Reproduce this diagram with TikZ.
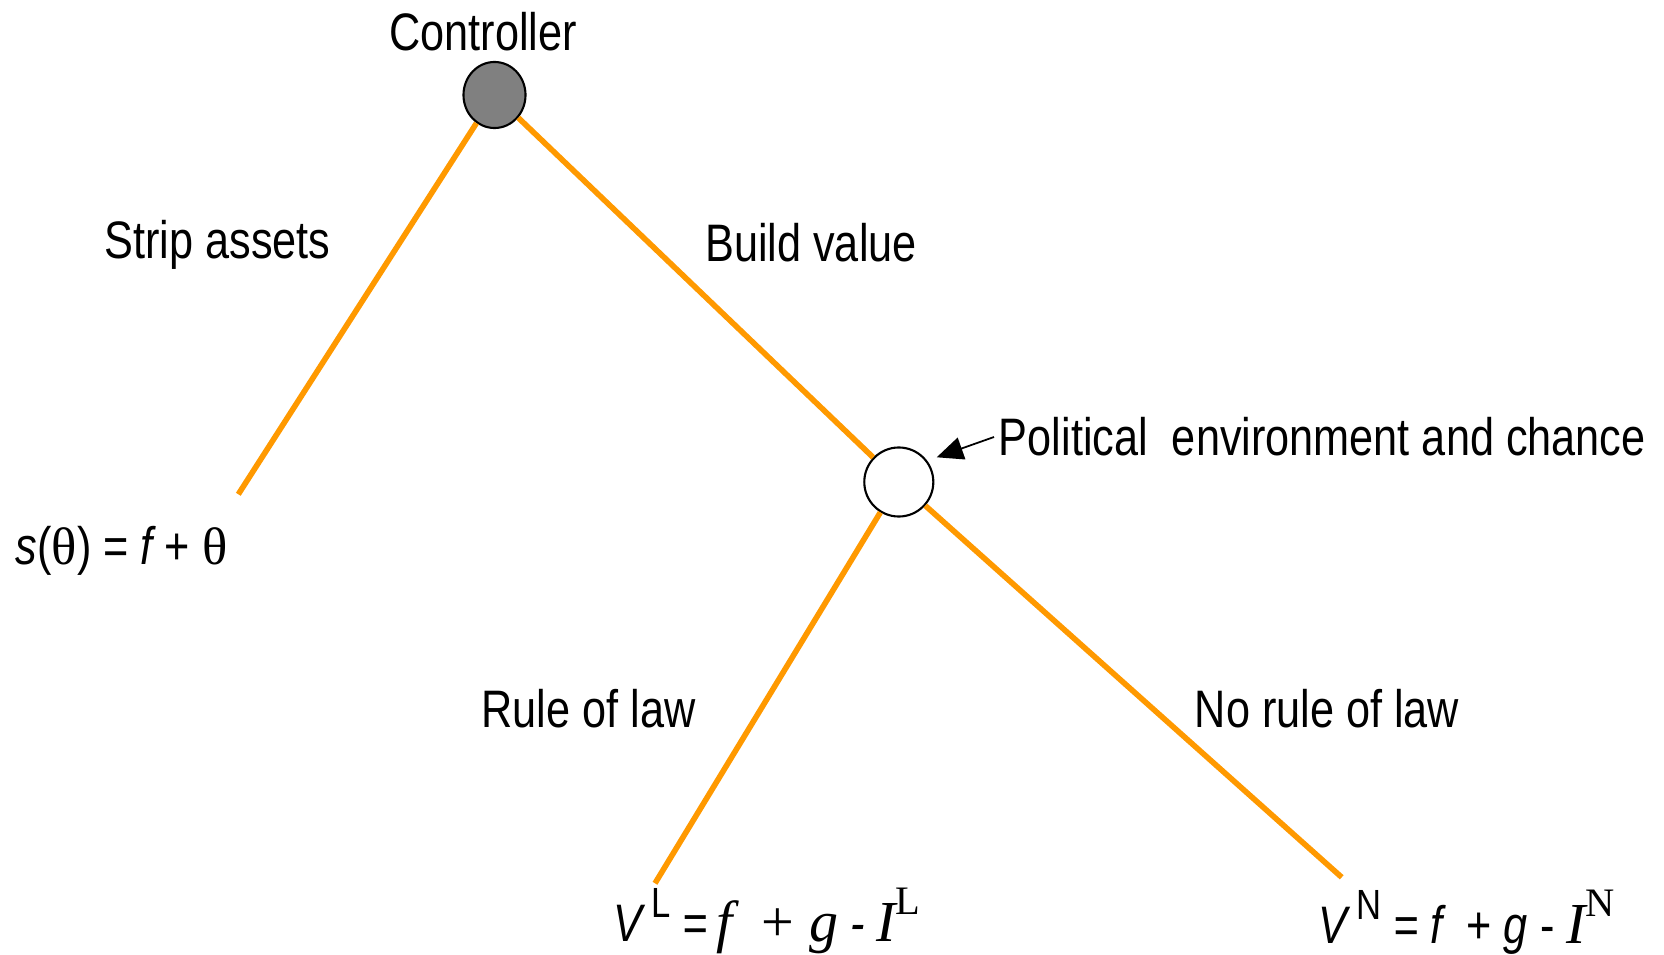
\documentclass[tikz,border=0pt]{standalone}
\usepackage{fontspec}
\setmainfont[FakeStretch=0.82]{Liberation Sans}
\newfontfamily\tms{Liberation Serif}
\definecolor{branch}{RGB}{255,153,0}
\definecolor{movefill}{RGB}{128,128,128}
\tikzset{
  branch/.style={draw=branch,line width=1.6pt},
  decision/.style={ellipse,draw,line width=0.6pt,fill=movefill,minimum width=0.62cm,minimum height=0.66cm,inner sep=0pt},
  chance/.style={circle,draw,line width=0.6pt,fill=white,minimum size=0.69cm,inner sep=0pt},
  lbl/.style={inner sep=0pt,font=\fontsize{15}{18}\selectfont},
  pointer/.style={-{Triangle[length=7.5pt,width=6.5pt]},line width=0.5pt}
}
\newcommand{\supsf}[1]{\raisebox{0.45em}{\fontsize{12}{12}\selectfont\upshape #1}}
\newcommand{\suptm}[1]{\raisebox{0.45em}{\tms\fontsize{11.5}{12}\selectfont\upshape #1}}
\usetikzlibrary{shapes.geometric,arrows.meta}
\begin{document}
\begin{tikzpicture}[x=0.01cm,y=-0.01cm]
\useasboundingbox (0,0) rectangle (1664,955);
% ---------- nodes of the tree ----------
\node[decision] (ctrl) at (494.5,95) {};
\node[chance] (env) at (898.8,482) {};
% free ends of the branches
\coordinate (stripend) at (238.3,494.3);
\coordinate (lawend) at (655,883.3);
\coordinate (nolawend) at (1341.7,877.3);
\coordinate (envtip) at (936.7,457.3);
% ---------- branches ----------
\draw[branch] (ctrl) -- (stripend);
\draw[branch] (ctrl) -- (env);
\draw[branch] (env) -- (lawend);
\draw[branch] (env) -- (nolawend);
% ---------- labels ----------
\node[lbl] (ctrllbl) at (483,32) {Controller};
\node[lbl] (strip) at (217.5,245) {Strip assets};
\node[lbl] (build) at (811,243) {Build value};
\node[lbl] (rule) at (588.5,709) {Rule of law};
\node[lbl] (norule) at (1327,709) {No rule of law};
\node[lbl,anchor=west,inner xsep=1.2pt] (pol) at (994,437) {Political\ \ environment and chance};
\draw[pointer] (pol.west) -- (envtip);
% ---------- payoffs ----------
\node[lbl,anchor=west] (payS) at (15,551)
  {\itshape s\upshape ({\tms θ}) = \itshape f\upshape\ + {\tms θ}};
\node[lbl,anchor=base west] (payL) at (613,941)
  {\itshape V\,\supsf{L}\ =\,{\tms\fontsize{16.5}{18}\selectfont\itshape f\ \ \upshape+\ \itshape g}\ -\ {\tms\fontsize{16.5}{18}\selectfont\itshape I\suptm{L}}};
\node[lbl,anchor=base west] (payN) at (1318,943)
  {\itshape V\,\supsf{N}\ = \itshape f\upshape\ \ + \itshape g\upshape\ -\ {\tms\fontsize{16.5}{18}\selectfont\itshape I\suptm{N}}};
\end{tikzpicture}
\end{document}
